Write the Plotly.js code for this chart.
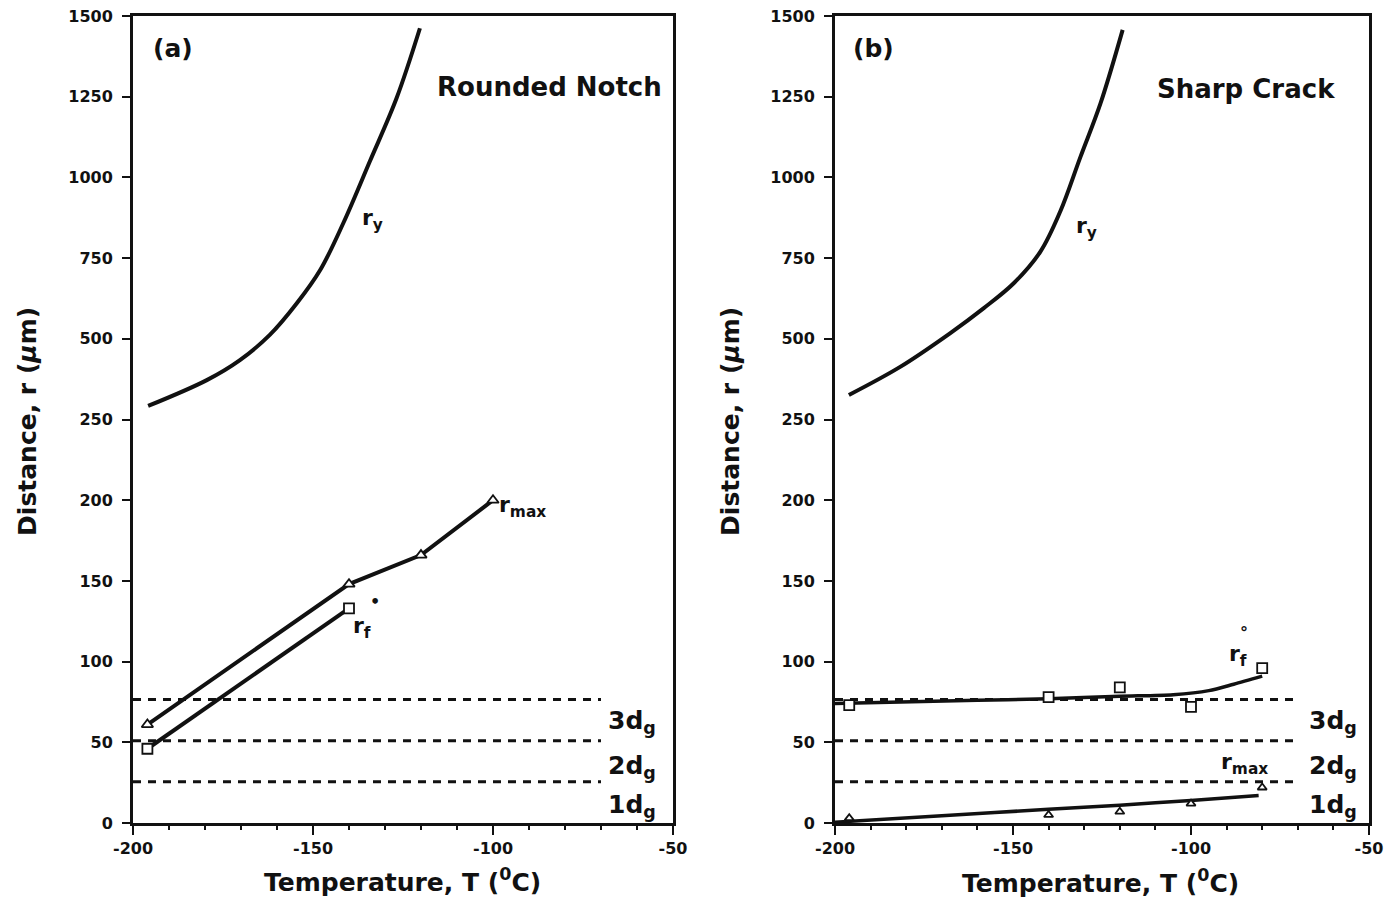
<!DOCTYPE html>
<html>
<head>
<meta charset="utf-8">
<script src="https://cdn.plot.ly/plotly-3.0.1.min.js"></script>
<style>html,body{margin:0;padding:0;background:#fff;}#chart{width:1392px;height:901px;}</style>
</head>
<body>
<div id="chart"></div>
<script>
// ---------- data (values in µm, temperatures in °C) ----------
// Panel (a) Rounded Notch
const ryA_T = [-195.8, -179.5, -170.3, -162, -154.5, -148, -141.6, -134.2, -126.8, -120.3];
const ryA_V = [292, 372, 434, 512, 610, 713, 858, 1050, 1245, 1462];
const rmaxA_T = [-196, -140, -120, -100];
const rmaxA_V = [61, 148, 166, 200];
const rfA_T = [-196, -140];
const rfA_V = [46, 133];

// Panel (b) Sharp Crack
const ryB_T = [-196.1, -181.7, -167.7, -158.2, -149.8, -142.3, -136.7, -131.1, -125.4, -119.2];
const ryB_V = [326, 413, 517, 595, 672, 770, 895, 1062, 1230, 1457];
const testT_B = [-196, -140, -120, -100, -80];
const rfB_V = [73, 78, 84, 72, 96];
const rmaxB_V = [3, 5, 7, 12, 22];
const rfFitB_T = [-200, -160, -140, -120, -105, -95, -88, -80];
const rfFitB_V = [74, 76, 77, 78.5, 79.5, 82, 86, 91];
const rmaxFitB_T = [-200, -170, -140, -120, -100, -81];
const rmaxFitB_V = [0.5, 4.5, 8.5, 11, 14, 17];

// grain-size multiples (d_g)
const dgLevels = [25.5, 51, 76.5];
const dgLabels = ['1d<sub>g</sub>', '2d<sub>g</sub>', '3d<sub>g</sub>'];
const dgLabelV = [10.5, 35, 62.5];
const dgT = [-200, -70];

// axis ticks
const xTicks = [-200, -150, -100, -50];
const yTickVals = [0, 50, 100, 150, 200, 250, 500, 750, 1000, 1250, 1500];
const yTickText = ['0', '50', '100', '150', '200', '250', '500', '750', '1000', '1250', '1500'];

// ---------- broken y-scale: 50 µm per division up to 250, 250 µm per division above ----------
function tf(v) { return v <= 250 ? v / 50 : 5 + (v - 250) / 250; }
const T = arr => arr.map(tf);

const FONT = 'DejaVu Sans, Verdana, sans-serif';
const black = '#111';

function lineTrace(x, y, xa, ya, extra) {
  return Object.assign({
    x: x, y: T(y), xaxis: xa, yaxis: ya, type: 'scatter', mode: 'lines',
    line: {color: black, width: 4, shape: 'spline', smoothing: 1},
    hoverinfo: 'skip', showlegend: false, cliponaxis: false
  }, extra || {});
}
function markerOpts(sym, size) {
  return {symbol: sym, size: size, color: 'white', line: {color: black, width: 1.8}};
}

const traces = [];
// dashed d_g lines, both panels
[['x', 'y'], ['x2', 'y2']].forEach(([xa, ya]) => {
  dgLevels.forEach(v => {
    traces.push({x: dgT, y: T([v, v]), xaxis: xa, yaxis: ya, type: 'scatter', mode: 'lines',
      line: {color: black, width: 3, dash: '8px,7px'}, hoverinfo: 'skip', showlegend: false});
  });
});

// panel (a)
traces.push(lineTrace(ryA_T, ryA_V, 'x', 'y'));
traces.push({x: rmaxA_T, y: T(rmaxA_V), xaxis: 'x', yaxis: 'y', type: 'scatter', mode: 'lines+markers',
  line: {color: black, width: 4}, marker: markerOpts('triangle-up', 10), showlegend: false, hoverinfo: 'skip'});
traces.push({x: rfA_T, y: T(rfA_V), xaxis: 'x', yaxis: 'y', type: 'scatter', mode: 'lines+markers',
  line: {color: black, width: 4}, marker: markerOpts('square', 10), showlegend: false, hoverinfo: 'skip'});

// panel (b)
traces.push(lineTrace(ryB_T, ryB_V, 'x2', 'y2'));
traces.push(lineTrace(rfFitB_T, rfFitB_V, 'x2', 'y2', {line: {color: black, width: 3.5, shape: 'spline', smoothing: 0.8}}));
traces.push(lineTrace(rmaxFitB_T, rmaxFitB_V, 'x2', 'y2', {line: {color: black, width: 3.5, shape: 'spline', smoothing: 0.5}}));
traces.push({x: testT_B, y: T(rfB_V), xaxis: 'x2', yaxis: 'y2', type: 'scatter', mode: 'markers',
  marker: markerOpts('square', 10), showlegend: false, hoverinfo: 'skip', cliponaxis: false});
traces.push({x: testT_B, y: T(rmaxB_V), xaxis: 'x2', yaxis: 'y2', type: 'scatter', mode: 'markers',
  marker: markerOpts('triangle-up', 8), showlegend: false, hoverinfo: 'skip', cliponaxis: false});

const tickFont = {family: FONT, size: 16, color: black, weight: 'bold'};
const b = s => '<b>' + s + '</b>';

function xAxis(domain, anchor) {
  return {
    domain: domain, anchor: anchor, range: [-200, -50], tickvals: xTicks, ticktext: xTicks.map(v => b(String(v))),
    ticks: 'outside', ticklen: 9, tickwidth: 2, tickcolor: black,
    minor: {dtick: 10, ticks: 'outside', ticklen: 4, tickwidth: 2, tickcolor: black},
    showline: true, mirror: true, linewidth: 3, linecolor: black,
    showgrid: false, zeroline: false, fixedrange: true, tickfont: tickFont
  };
}
function yAxis(anchor) {
  return {
    domain: [0, 1], anchor: anchor, range: [0, 10], tickvals: T(yTickVals), ticktext: yTickText.map(b),
    ticks: 'outside', ticklen: 8, tickwidth: 2, tickcolor: black, ticklabelstandoff: 6,
    showline: true, mirror: true, linewidth: 3, linecolor: black,
    showgrid: false, zeroline: false, fixedrange: true, tickfont: tickFont
  };
}

const bigFont = {family: FONT, size: 25, color: black, weight: 'bold'};
const panelFont = {family: FONT, size: 26, color: black, weight: 'bold'};
const lblFont = {family: FONT, size: 22, color: black, weight: 'bold'};

function ann(xref, yref, x, y, text, opts) {
  return Object.assign({xref: xref, yref: yref, x: x, y: y, text: b(text), showarrow: false,
    font: lblFont, xanchor: 'left', yanchor: 'middle'}, opts || {});
}

const annotations = [
  // panel labels
  ann('x', 'y', -195, tf(1400), '(a)', {font: bigFont}),
  ann('x', 'y', -52.5, tf(1280), 'Rounded Notch', {font: panelFont, xanchor: 'right'}),
  ann('x2', 'y2', -195.5, tf(1400), '(b)', {font: bigFont}),
  ann('x2', 'y2', -59, tf(1275), 'Sharp Crack', {font: panelFont, xanchor: 'right'}),
  // curve labels panel (a)
  ann('x', 'y', -137, tf(870), 'r<sub>y</sub>'),
  ann('x', 'y', -99, tf(196), 'r<sub>max</sub>'),
  ann('x', 'y', -139.5, tf(121), 'r<sub>f</sub>'),
  ann('x', 'y', -134.8, tf(137), '•', {font: {family: FONT, size: 16, color: black}}),
  // curve labels panel (b)
  ann('x2', 'y2', -133, tf(845), 'r<sub>y</sub>'),
  ann('x2', 'y2', -90, tf(104), 'r<sub>f</sub>'),
  ann('x2', 'y2', -86.8, tf(118), '°', {font: {family: FONT, size: 16, color: black, weight: 'bold'}}),
  ann('x2', 'y2', -92, tf(37), 'r<sub>max</sub>')
];
// d_g labels
[['x', 'y', -68.5], ['x2', 'y2', -67.5]].forEach(([xa, ya, xx]) => {
  dgLabels.forEach((t, i) => annotations.push(ann(xa, ya, xx, tf(dgLabelV[i]), t, {font: bigFont})));
});
// axis titles
annotations.push(ann('paper', 'paper', 403 / 1392, -0.071, 'Temperature, T (<sup>0</sup>C)', {font: bigFont, xanchor: 'center'}));
annotations.push(ann('paper', 'paper', 1100 / 1392, -0.073, 'Temperature, T (<sup>0</sup>C)', {font: bigFont, xanchor: 'center'}));
annotations.push(ann('paper', 'paper', 28 / 1392, 0.497, 'Distance, r (<i>μ</i>m)', {font: bigFont, xanchor: 'center', textangle: -90}));
annotations.push(ann('paper', 'paper', 731 / 1392, 0.497, 'Distance, r (<i>μ</i>m)', {font: bigFont, xanchor: 'center', textangle: -90}));

const layout = {
  width: 1392, height: 901,
  margin: {l: 0, r: 0, t: 16, b: 78},
  paper_bgcolor: 'white', plot_bgcolor: 'white',
  showlegend: false,
  xaxis: xAxis([133 / 1392, 673 / 1392], 'y'),
  yaxis: yAxis('x'),
  xaxis2: xAxis([835 / 1392, 1369 / 1392], 'y2'),
  yaxis2: yAxis('x2'),
  annotations: annotations
};

Plotly.newPlot('chart', traces, layout, {staticPlot: true, displayModeBar: false});
</script>
</body>
</html>
